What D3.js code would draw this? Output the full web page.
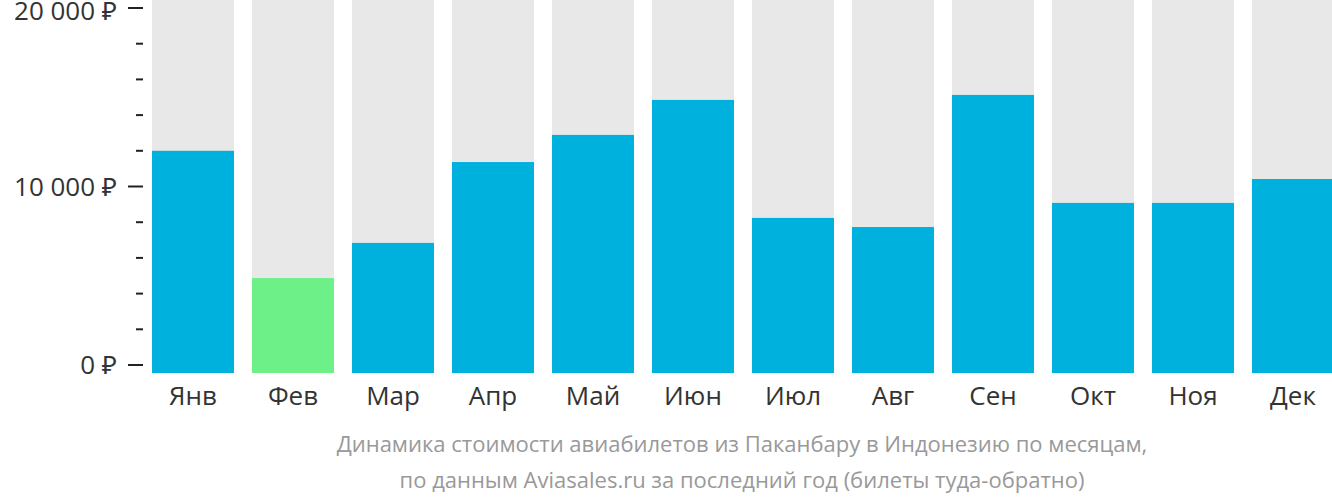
<!DOCTYPE html>
<html><head><meta charset="utf-8">
<script src="https://cdn.jsdelivr.net/npm/d3@7"></script>
<style>body{margin:0;background:#fff;overflow:hidden}svg{display:block}</style>
</head><body>
<script>
const months = ["Янв","Фев","Мар","Апр","Май","Июн","Июл","Авг","Сен","Окт","Ноя","Дек"];
const prices = [12000,4870,6840,11370,12890,14850,8240,7730,15130,9080,9080,10420];
const cheapest = "Фев";
const majorTicks = [0,10000,20000];
const minorTicks = [2000,4000,6000,8000,12000,14000,16000,18000];
const tickLabel = v => d3.format(",")(v).replace(/,/g," ") + " ₽";
const captionLines = ["Динамика стоимости авиабилетов из Паканбару в Индонезию по месяцам,",
                      "по данным Aviasales.ru за последний год (билеты туда-обратно)"];

const W = 1332, H = 502;
const svg = d3.select("body").append("svg").attr("width", W).attr("height", H);
const x = d3.scaleBand().domain(months).range([143, 1343]).paddingInner(0.18).paddingOuter(0.09);
const y = d3.scaleLinear().domain([0, 20000]).range([365, 8]);
const base = 373;

svg.append("g").selectAll("rect").data(months).join("rect")
  .attr("x", d => x(d)).attr("width", x.bandwidth())
  .attr("y", 0).attr("height", base).attr("fill", "#e8e8e8");

svg.append("g").selectAll("rect").data(prices).join("rect")
  .attr("x", (d,i) => x(months[i])).attr("width", x.bandwidth())
  .attr("y", d => y(d)).attr("height", d => base - y(d))
  .attr("fill", (d,i) => months[i] === cheapest ? "#6cf087" : "#00b1dd");

const font = "'Open Sans', 'Noto Sans', sans-serif";
const ax = svg.append("g");
ax.selectAll("line.maj").data(majorTicks).join("line")
  .attr("x1", 128).attr("x2", 143).attr("y1", d => y(d)).attr("y2", d => y(d))
  .attr("stroke", "#222").attr("stroke-width", 2);
ax.selectAll("line.min").data(minorTicks).join("line")
  .attr("x1", 136).attr("x2", 143).attr("y1", d => y(d)).attr("y2", d => y(d))
  .attr("stroke", "#222").attr("stroke-width", 2);
ax.selectAll("text").data(majorTicks).join("text")
  .attr("x", 117).attr("y", d => Math.max(y(d) + 9, 20)).attr("text-anchor", "end")
  .attr("font-family", font).attr("font-size", 26).attr("fill", "#333")
  .text(tickLabel);

svg.append("g").selectAll("text").data(months).join("text")
  .attr("x", d => x(d) + x.bandwidth()/2).attr("y", 405).attr("text-anchor", "middle")
  .attr("font-family", font).attr("font-size", 26).attr("fill", "#333")
  .text(d => d);

svg.append("g").selectAll("text").data(captionLines).join("text")
  .attr("x", 742).attr("y", (d,i) => 452 + i*36).attr("text-anchor", "middle")
  .attr("font-family", font).attr("font-size", 22).attr("fill", "#999")
  .text(d => d);
</script>
</body></html>
